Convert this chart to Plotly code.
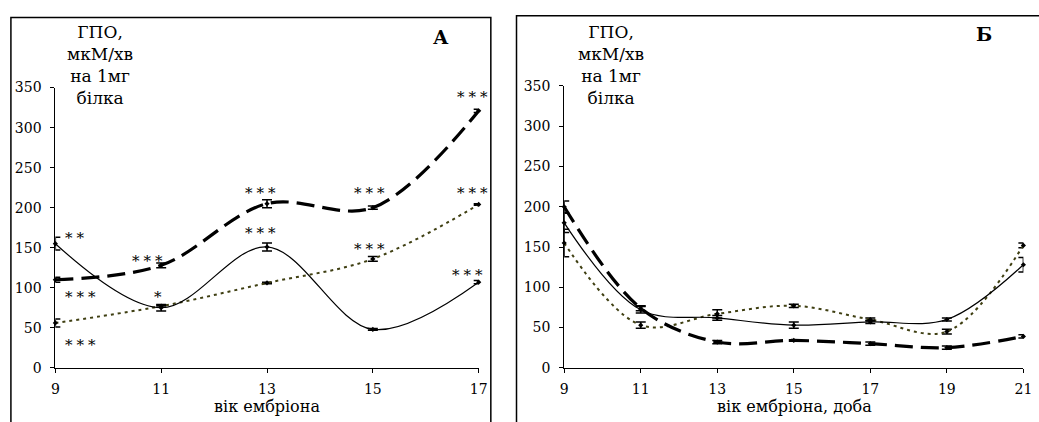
import plotly.graph_objects as go

W, H = 1039, 422

# ---------------- Data ----------------
days_a = [9, 11, 13, 15, 17]
a_solid = [155, 75, 151, 48, 107]
a_solid_err = [8, 4, 5, 1, 2]
a_dash = [110, 128, 205, 200, 321]
a_dash_err = [3, 3, 5, 2, 2]
a_dot = [56, 77, 106, 136, 204]
a_dot_err = [5, 1, 1, 3, 1]

days_b = [9, 11, 13, 15, 17, 19, 21]
b_solid = [180, 72, 62, 53, 57, 60, 128]
b_solid_err = [12, 4, 3, 4, 2, 2, 9]
b_dash = [200, 74, 32, 34, 30, 25, 39]
b_dash_err = [7, 3, 2, 1, 2, 2, 2]
b_dot = [155, 53, 67, 77, 60, 45, 152]
b_dot_err = [17, 4, 5, 2, 2, 3, 3]

yticks = [0, 50, 100, 150, 200, 250, 300, 350]
ytitle = "ГПО,<br>мкМ/хв<br>на 1мг<br>білка"
xtitle_a = "вік ембріона"
xtitle_b = "вік ембріона, доба"

# significance marks for panel A: (x, y, text)
stars_a = [
    (9.4, 162, "**"), (9.52, 88, "***"), (9.52, 28, "***"),
    (10.77, 134, "***"), (10.97, 88, "*"),
    (12.92, 218, "***"), (12.92, 168, "***"),
    (14.97, 218, "***"), (14.97, 148, "***"),
    (16.92, 338, "***"), (16.92, 218, "***"), (16.82, 116, "***"),
]

SERIF = "DejaVu Serif"
DOT_COLOR = "#3f3f12"


def px(x):
    return x / W


def py(y):
    return 1 - y / H


fig = go.Figure()


def add_series(x, y, err, xa, ya, style):
    if style == "solid":
        line = dict(color="black", width=1.2, shape="spline")
    elif style == "dash":
        line = dict(color="black", width=3.2, dash="18px,8px", shape="spline")
    else:
        line = dict(color=DOT_COLOR, width=2, dash="3px,4px", shape="spline")
    fig.add_trace(go.Scatter(
        x=x, y=y, xaxis=xa, yaxis=ya, mode="lines+markers",
        line=line,
        marker=dict(symbol="diamond", size=4, color="black"),
        error_y=dict(type="data", array=err, visible=True, color="black",
                     thickness=1.5, width=5),
        cliponaxis=False, showlegend=False, hoverinfo="skip",
    ))


add_series(days_a, a_dot, a_dot_err, "x", "y", "dot")
add_series(days_a, a_solid, a_solid_err, "x", "y", "solid")
add_series(days_a, a_dash, a_dash_err, "x", "y", "dash")

add_series(days_b, b_dot, b_dot_err, "x2", "y2", "dot")
add_series(days_b, b_solid, b_solid_err, "x2", "y2", "solid")
add_series(days_b, b_dash, b_dash_err, "x2", "y2", "dash")

tickfont = dict(family=SERIF, size=14, color="black")
axis_common = dict(showline=True, linecolor="black", linewidth=1, ticks="outside",
                   ticklen=4, tickcolor="black", showgrid=False, zeroline=False,
                   tickfont=tickfont)

fig.update_layout(
    width=W, height=H, margin=dict(l=0, r=0, t=0, b=0),
    paper_bgcolor="white", plot_bgcolor="white",
    xaxis=dict(domain=[px(52), px(480.7)], range=[9, 17], anchor="y",
               tickvals=days_a, ticklabelstandoff=4, **axis_common),
    yaxis=dict(domain=[py(374), py(82.7)], range=[0, 350], anchor="x",
               tickvals=yticks, ticklabelstandoff=6, **axis_common),
    xaxis2=dict(domain=[px(567.3), px(1032.3)], range=[9, 21], anchor="y2",
                tickvals=days_b, ticklabelstandoff=4, **axis_common),
    yaxis2=dict(domain=[py(374), py(81)], range=[0, 350], anchor="x2",
                tickvals=yticks, ticklabelstandoff=6, **axis_common),
)

# frames around each panel
fig.add_shape(type="rect", xref="paper", yref="paper",
              x0=px(7), x1=px(493), y0=py(440), y1=py(10),
              line=dict(color="black", width=1.5), layer="above")
fig.add_shape(type="rect", xref="paper", yref="paper",
              x0=px(519), x1=px(1060), y0=py(440), y1=py(8),
              line=dict(color="black", width=1.5), layer="above")

ann = []
for (x, y, t) in stars_a:
    ann.append(dict(x=x, y=y, xref="x", yref="y",
                    text="<span style='letter-spacing:4px'>" + t + "</span>",
                    showarrow=False, xanchor="center", yanchor="middle",
                    font=dict(family=SERIF, size=15, color="black")))

for cx in (97, 615):
    ann.append(dict(x=px(cx), y=py(12), xref="paper", yref="paper", text=ytitle,
                    showarrow=False, xanchor="center", yanchor="top", align="center",
                    font=dict(family=SERIF, size=17, color="black")))

ann.append(dict(x=px(443), y=py(30), xref="paper", yref="paper", text="<b>А</b>",
                showarrow=False, xanchor="center", yanchor="middle",
                font=dict(family=SERIF, size=19, color="black")))
ann.append(dict(x=px(992), y=py(27), xref="paper", yref="paper", text="<b>Б</b>",
                showarrow=False, xanchor="center", yanchor="middle",
                font=dict(family=SERIF, size=19, color="black")))

ann.append(dict(x=px(266), y=py(414), xref="paper", yref="paper", text=xtitle_a,
                showarrow=False, xanchor="center", yanchor="middle",
                font=dict(family=SERIF, size=16, color="black")))
ann.append(dict(x=px(801), y=py(414), xref="paper", yref="paper", text=xtitle_b,
                showarrow=False, xanchor="center", yanchor="middle",
                font=dict(family=SERIF, size=16, color="black")))

fig.update_layout(annotations=ann)

fig.write_html(
    "out.html",
    config={"displayModeBar": False},
    post_script="document.body.style.margin='0';document.body.style.overflow='hidden';",
)
